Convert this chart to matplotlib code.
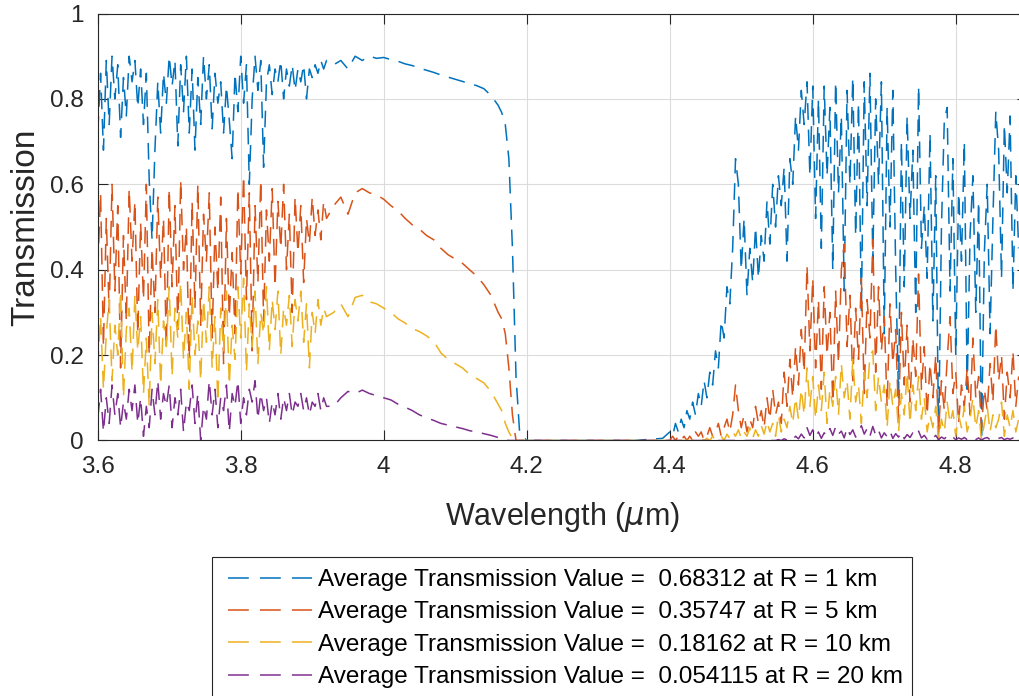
import numpy as np
import matplotlib
matplotlib.use("Agg")
import matplotlib.pyplot as plt
import matplotlib.patches as patches

plt.rcParams['font.family'] = ['Liberation Sans', 'DejaVu Sans']
plt.rcParams['lines.scale_dashes'] = False

# Wavelength grid (um): fine in the noisy bands, coarser on the smooth part
wl_left = np.round(np.arange(3.600, 3.9201, 0.004), 3)
wl_mid = [3.93, 3.94, 3.95, 3.96, 3.97, 3.98, 3.99, 4.00, 4.01, 4.02, 4.03, 4.04,
          4.05, 4.06, 4.07, 4.08, 4.09, 4.10, 4.11, 4.12, 4.13, 4.14, 4.15,
          4.16, 4.165, 4.17, 4.175, 4.18, 4.185, 4.19, 4.20, 4.25, 4.30, 4.35, 4.39]
wl_right = np.round(np.arange(4.400, 4.8881, 0.004), 3)

# R = 1 km
t1_left = [0.72, 0.86, 0.68, 0.89, 0.74, 0.90, 0.80, 0.88, 0.71, 0.85,
           0.76, 0.90, 0.84, 0.89, 0.78, 0.87, 0.74, 0.86, 0.61, 0.47,
           0.68, 0.84, 0.72, 0.86, 0.79, 0.90, 0.83, 0.89, 0.69, 0.88,
           0.77, 0.90, 0.72, 0.87, 0.68, 0.85, 0.74, 0.90, 0.80, 0.88,
           0.73, 0.86, 0.79, 0.84, 0.72, 0.83, 0.75, 0.66, 0.86, 0.77,
           0.90, 0.79, 0.88, 0.60, 0.80, 0.90, 0.82, 0.89, 0.64, 0.84,
           0.88, 0.81, 0.87, 0.84, 0.89, 0.80, 0.87, 0.83, 0.88, 0.82,
           0.87, 0.84, 0.88, 0.80, 0.87, 0.85, 0.88, 0.86, 0.89, 0.87,
           0.89]
t1_mid = [0.88, 0.89, 0.87, 0.90, 0.89, 0.90, 0.895, 0.897, 0.892, 0.888, 0.882, 0.878,
          0.872, 0.867, 0.862, 0.856, 0.851, 0.846, 0.841, 0.836, 0.831, 0.824, 0.808,
          0.785, 0.768, 0.74, 0.66, 0.45, 0.15, 0.02, 0.0, 0.0, 0.0, 0.0, 0.005]
t1_right = [0.02, 0.01, 0.04, 0.02, 0.05, 0.03, 0.07, 0.05, 0.09, 0.06,
            0.11, 0.08, 0.14, 0.10, 0.16, 0.13, 0.21, 0.17, 0.28, 0.24,
            0.36, 0.32, 0.45, 0.66, 0.60, 0.40, 0.52, 0.34, 0.45, 0.37,
            0.50, 0.38, 0.48, 0.42, 0.56, 0.46, 0.60, 0.50, 0.62, 0.55,
            0.64, 0.42, 0.66, 0.60, 0.76, 0.68, 0.82, 0.74, 0.84, 0.62,
            0.83, 0.52, 0.80, 0.45, 0.83, 0.62, 0.78, 0.40, 0.84, 0.58,
            0.76, 0.35, 0.82, 0.60, 0.85, 0.48, 0.79, 0.30, 0.84, 0.55,
            0.86, 0.42, 0.80, 0.60, 0.84, 0.25, 0.78, 0.50, 0.82, 0.40,
            0.10, 0.70, 0.36, 0.76, 0.52, 0.68, 0.30, 0.83, 0.45, 0.55,
            0.38, 0.72, 0.28, 0.62, 0.00, 0.50, 0.75, 0.78, 0.35, 0.66,
            0.20, 0.58, 0.42, 0.70, 0.12, 0.48, 0.62, 0.30, 0.56, 0.00,
            0.44, 0.60, 0.25, 0.52, 0.77, 0.68, 0.38, 0.74, 0.58, 0.76,
            0.35, 0.62, 0.45]

# R = 5 km
t5_left = [0.40, 0.58, 0.22, 0.52, 0.30, 0.60, 0.35, 0.55, 0.17, 0.48,
           0.28, 0.59, 0.42, 0.56, 0.25, 0.51, 0.33, 0.60, 0.20, 0.45,
           0.30, 0.57, 0.38, 0.52, 0.22, 0.59, 0.36, 0.55, 0.26, 0.61,
           0.40, 0.50, 0.19, 0.56, 0.31, 0.60, 0.27, 0.53, 0.42, 0.58,
           0.24, 0.50, 0.35, 0.57, 0.18, 0.52, 0.29, 0.44, 0.25, 0.59,
           0.39, 0.62, 0.33, 0.58, 0.21, 0.55, 0.37, 0.61, 0.28, 0.54,
           0.42, 0.59, 0.36, 0.56, 0.45, 0.60, 0.40, 0.53, 0.30, 0.57,
           0.44, 0.55, 0.37, 0.52, 0.46, 0.57, 0.48, 0.54, 0.47, 0.56,
           0.52]
t5_mid = [0.55, 0.57, 0.53, 0.58, 0.59, 0.58, 0.575, 0.565, 0.55, 0.538, 0.52, 0.505,
          0.495, 0.48, 0.47, 0.45, 0.435, 0.425, 0.415, 0.40, 0.385, 0.365, 0.34,
          0.30, 0.285, 0.25, 0.17, 0.06, 0.0, 0.0, 0.0, 0.0, 0.0, 0.0, 0.0]
t5_right = [0.00, 0.01, 0.00, 0.01, 0.00, 0.01, 0.00, 0.01, 0.00, 0.02,
            0.01, 0.02, 0.00, 0.01, 0.03, 0.01, 0.02, 0.04, 0.01, 0.03,
            0.05, 0.02, 0.06, 0.13, 0.07, 0.03, 0.06, 0.02, 0.05, 0.03,
            0.08, 0.04, 0.07, 0.03, 0.10, 0.05, 0.12, 0.06, 0.09, 0.04,
            0.16, 0.08, 0.19, 0.10, 0.22, 0.13, 0.26, 0.16, 0.41, 0.21,
            0.38, 0.17, 0.33, 0.12, 0.36, 0.20, 0.30, 0.09, 0.35, 0.18,
            0.40, 0.46, 0.22, 0.34, 0.14, 0.31, 0.19, 0.38, 0.11, 0.33,
            0.24, 0.47, 0.16, 0.36, 0.21, 0.29, 0.08, 0.32, 0.18, 0.26,
            0.05, 0.30, 0.13, 0.27, 0.09, 0.24, 0.15, 0.39, 0.12, 0.22,
            0.06, 0.18, 0.10, 0.20, 0.02, 0.14, 0.07, 0.19, 0.29, 0.11,
            0.16, 0.04, 0.13, 0.08, 0.17, 0.06, 0.24, 0.10, 0.15, 0.03,
            0.12, 0.07, 0.18, 0.09, 0.27, 0.14, 0.20, 0.05, 0.16, 0.10,
            0.21, 0.08, 0.15]

# R = 10 km
t10_left = [0.17, 0.29, 0.12, 0.25, 0.33, 0.14, 0.27, 0.20, 0.35, 0.10,
            0.26, 0.31, 0.16, 0.34, 0.21, 0.29, 0.11, 0.24, 0.08, 0.30,
            0.18, 0.33, 0.13, 0.28, 0.22, 0.36, 0.15, 0.31, 0.24, 0.37,
            0.19, 0.30, 0.12, 0.34, 0.20, 0.28, 0.14, 0.33, 0.23, 0.36,
            0.17, 0.29, 0.09, 0.31, 0.21, 0.35, 0.13, 0.27, 0.19, 0.36,
            0.24, 0.38, 0.16, 0.32, 0.22, 0.35, 0.18, 0.30, 0.25, 0.36,
            0.21, 0.33, 0.26, 0.35, 0.20, 0.31, 0.27, 0.34, 0.22, 0.33,
            0.28, 0.35, 0.23, 0.32, 0.17, 0.30, 0.25, 0.33, 0.27, 0.31,
            0.29]
t10_mid = [0.30, 0.32, 0.29, 0.335, 0.34, 0.325, 0.32, 0.31, 0.30, 0.285, 0.275, 0.262,
           0.255, 0.245, 0.232, 0.205, 0.19, 0.18, 0.17, 0.155, 0.145, 0.135, 0.115,
           0.085, 0.07, 0.04, 0.02, 0.005, 0.0, 0.0, 0.0, 0.0, 0.0, 0.0, 0.0]
t10_right = [0.0, 0.0, 0.0, 0.0, 0.0, 0.0, 0.0, 0.0, 0.0, 0.0,
             0.0, 0.005, 0.0, 0.005, 0.0, 0.01, 0.0, 0.005, 0.01, 0.0,
             0.015, 0.005, 0.02, 0.01, 0.025, 0.005, 0.02, 0.01, 0.03, 0.005,
             0.025, 0.01, 0.035, 0.015, 0.045, 0.02, 0.04, 0.01, 0.06, 0.02,
             0.05, 0.03, 0.08, 0.04, 0.10, 0.05, 0.12, 0.06, 0.17, 0.08,
             0.15, 0.05, 0.13, 0.07, 0.16, 0.04, 0.12, 0.08, 0.15, 0.06,
             0.18, 0.10, 0.14, 0.05, 0.19, 0.09, 0.13, 0.04, 0.16, 0.10,
             0.20, 0.21, 0.07, 0.15, 0.09, 0.13, 0.03, 0.14, 0.08, 0.12,
             0.02, 0.11, 0.06, 0.16, 0.04, 0.13, 0.07, 0.15, 0.05, 0.10,
             0.02, 0.06, 0.03, 0.08, 0.00, 0.05, 0.02, 0.09, 0.04, 0.07,
             0.01, 0.06, 0.03, 0.08, 0.02, 0.05, 0.10, 0.03, 0.07, 0.00,
             0.04, 0.08, 0.02, 0.06, 0.03, 0.05, 0.09, 0.01, 0.06, 0.03,
             0.07, 0.02, 0.05]

# R = 20 km
t20_left = [0.05, 0.12, 0.02, 0.10, 0.04, 0.13, 0.06, 0.11, 0.03, 0.09,
            0.05, 0.12, 0.07, 0.13, 0.04, 0.10, 0.01, 0.08, 0.03, 0.12,
            0.06, 0.14, 0.05, 0.11, 0.08, 0.13, 0.03, 0.10, 0.06, 0.12,
            0.02, 0.09, 0.07, 0.13, 0.04, 0.11, 0.00, 0.08, 0.05, 0.14,
            0.06, 0.12, 0.03, 0.10, 0.07, 0.13, 0.02, 0.11, 0.08, 0.14,
            0.04, 0.10, 0.06, 0.12, 0.09, 0.14, 0.05, 0.11, 0.07, 0.10,
            0.04, 0.09, 0.06, 0.11, 0.05, 0.10, 0.07, 0.11, 0.06, 0.09,
            0.08, 0.11, 0.07, 0.10, 0.06, 0.09, 0.08, 0.11, 0.07, 0.10,
            0.08]
t20_mid = [0.08, 0.10, 0.115, 0.11, 0.118, 0.11, 0.105, 0.10, 0.095, 0.085, 0.078, 0.07,
           0.06, 0.053, 0.047, 0.04, 0.036, 0.032, 0.028, 0.023, 0.02, 0.016, 0.012,
           0.007, 0.005, 0.002, 0.0, 0.0, 0.0, 0.0, 0.0, 0.0, 0.0, 0.0, 0.0]
t20_right = [0.0, 0.0, 0.0, 0.0, 0.0, 0.0, 0.0, 0.0, 0.0, 0.0,
             0.0, 0.0, 0.0, 0.0, 0.0, 0.0, 0.0, 0.0, 0.0, 0.0,
             0.0, 0.0, 0.0, 0.0, 0.0, 0.0, 0.0, 0.0, 0.0, 0.0,
             0.0, 0.0, 0.0, 0.0, 0.0, 0.0, 0.0, 0.0, 0.002, 0.0,
             0.004, 0.001, 0.006, 0.002, 0.01, 0.004, 0.015, 0.006, 0.03, 0.012,
             0.025, 0.008, 0.02, 0.005, 0.018, 0.01, 0.028, 0.012, 0.032, 0.015,
             0.022, 0.006, 0.03, 0.014, 0.025, 0.008, 0.02, 0.035, 0.015, 0.028,
             0.01, 0.033, 0.012, 0.024, 0.006, 0.018, 0.009, 0.022, 0.005, 0.016,
             0.008, 0.02, 0.004, 0.014, 0.007, 0.018, 0.01, 0.022, 0.006, 0.012,
             0.003, 0.01, 0.005, 0.012, 0.002, 0.008, 0.004, 0.01, 0.003, 0.008,
             0.002, 0.006, 0.003, 0.007, 0.002, 0.005, 0.008, 0.002, 0.006, 0.001,
             0.005, 0.007, 0.002, 0.006, 0.003, 0.005, 0.007, 0.002, 0.005, 0.003,
             0.006, 0.002, 0.004]

ranges = ["1", "5", "10", "20"]
averages = ["0.68312", "0.35747", "0.18162", "0.054115"]
colors = ["#0072BD", "#D95319", "#EDB120", "#7E2F8E"]

wl = np.concatenate([wl_left, wl_mid, wl_right])
series = [t1_left + t1_mid + t1_right,
          t5_left + t5_mid + t5_right,
          t10_left + t10_mid + t10_right,
          t20_left + t20_mid + t20_right]

fig = plt.figure(figsize=(10.19, 6.96), dpi=100)
# axes run a bit past the right edge of the picture, like the original crop
ax = fig.add_axes([0.0959, 0.3671, 0.9122, 0.6135])

for vals, col, r, avg in zip(series, colors, ranges, averages):
    ax.plot(wl, vals, color=col, lw=1.1, linestyle=(0, (12, 7)),
            label=f"Average Transmission Value =  {avg} at R = {r} km")

ax.set_xlim(3.6, 4.9)
ax.set_ylim(0, 1)
ax.set_xticks([3.6, 3.8, 4.0, 4.2, 4.4, 4.6, 4.8])
ax.set_xticklabels(["3.6", "3.8", "4", "4.2", "4.4", "4.6", "4.8"])
ax.set_yticks([0, 0.2, 0.4, 0.6, 0.8, 1])
ax.set_yticklabels(["0", "0.2", "0.4", "0.6", "0.8", "1"])

ax.grid(True, color="#dcdcdc", lw=0.8)
ax.set_axisbelow(True)
for s in ax.spines.values():
    s.set_color("#262626")
    s.set_linewidth(0.8)
ax.tick_params(direction="in", length=7, width=0.8, color="#262626",
               labelsize=17.5, labelcolor="#262626", top=True, right=True)
ax.tick_params(axis="x", pad=11)
ax.tick_params(axis="y", pad=10)

ax.set_xlabel(r"Wavelength ($\mu$m)", fontsize=22, color="#262626", labelpad=16)
ax.set_ylabel("Transmission", fontsize=24, color="#262626", labelpad=6)

# legend box drawn by hand so it can run off the bottom of the picture
box = patches.Rectangle((212 / 1019, 1 - 720 / 696), 700 / 1019, 163 / 696,
                        transform=fig.transFigure, facecolor="white",
                        edgecolor="#262626", lw=0.8, zorder=1, clip_on=False)
fig.add_artist(box)
leg = fig.legend(loc="upper left", bbox_to_anchor=(228 / 1019, 1 - 569 / 696),
                 frameon=False, fontsize=17.5, handlelength=3.45, handletextpad=0.25,
                 labelspacing=0.43, borderpad=0, borderaxespad=0)
# three clean dashes per legend sample
for line in leg.get_lines():
    line.set_dashes((15, 8))

fig.savefig("out.png", dpi=100)
